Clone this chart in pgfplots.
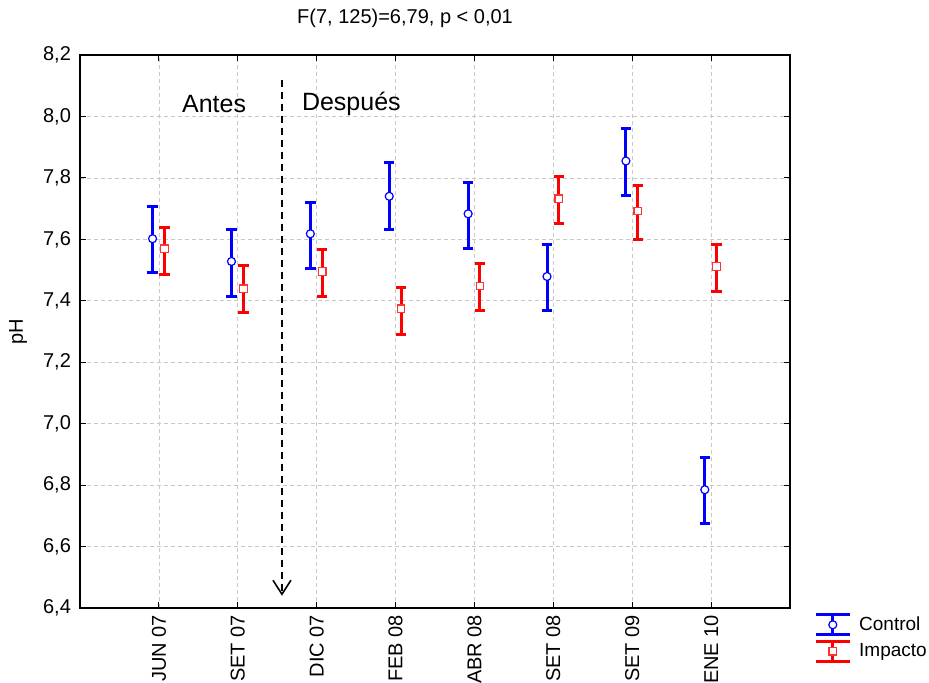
\documentclass[border=0pt]{standalone}
\usepackage{fontspec}
\setmainfont{Liberation Sans}
\usepackage{pgfplots}
\usepackage{pgfplotstable}
\pgfplotsset{compat=1.18}
\usetikzlibrary{arrows.meta}
\definecolor{gridgray}{RGB}{200,200,200}
\definecolor{impred}{RGB}{255,0,0}
\definecolor{ctlblue}{RGB}{0,0,255}

\pgfplotstableread{
x y ep em
-0.08 7.602 0.106 0.111
0.92 7.528 0.103 0.115
1.92 7.618 0.103 0.114
2.92 7.740 0.109 0.107
3.92 7.683 0.102 0.114
4.92 7.479 0.105 0.111
5.92 7.855 0.105 0.112
6.92 6.785 0.105 0.111
}\control

\pgfplotstableread{
x y ep em
0.07 7.569 0.070 0.083
1.07 7.439 0.077 0.077
2.07 7.495 0.072 0.081
3.07 7.374 0.069 0.085
4.07 7.448 0.074 0.079
5.07 7.732 0.072 0.082
6.07 7.692 0.084 0.092
7.07 7.512 0.071 0.082
}\impacto

\begin{document}
\begin{tikzpicture}
\begin{axis}[
  name=ax,
  scale only axis,
  width=355pt, height=276.5pt,
  xmin=-1, xmax=8,
  ymin=6.4, ymax=8.2,
  xtick={0,1,2,3,4,5,6,7},
  xticklabels={JUN 07,SET 07,DIC 07,FEB 08,ABR 08,SET 08,SET 09,ENE 10},
  xticklabel style={rotate=90, anchor=east, font=\fontsize{10}{12}\selectfont},
  ytick={6.4,6.6,6.8,7.0,7.2,7.4,7.6,7.8,8.0,8.2},
  yticklabel style={font=\fontsize{10}{12}\selectfont, xshift=-1pt},
  /pgf/number format/.cd, use comma, fixed, fixed zerofill, precision=1, assume math mode=true,
  /pgfplots/.cd,
  grid=major,
  grid style={dash pattern=on 2pt off 1.5pt, gridgray, line width=0.35pt},
  tick align=inside,
  major tick length=3pt,
  tick style={black, line width=0.6pt},
  axis line style={line width=1pt},
  clip=false,
  ylabel={pH},
  every axis y label/.style={at={(rel axis cs:0,0.5)}, xshift=-31pt, rotate=90, anchor=center, font=\fontsize{10}{12}\selectfont},
  legend style={draw=none, fill=none, font=\fontsize{9.5}{11}\selectfont,
    at={(1,0)}, anchor=north west, xshift=12pt, yshift=-2pt, inner sep=0pt, row sep=1pt,
    nodes={inner xsep=4pt}},
  legend cell align=left,
]
\addplot[ctlblue, only marks, mark=*, mark size=2pt,
  mark options={fill=white, draw=ctlblue, line width=0.6pt},
  error bars/.cd, y dir=both, y explicit,
  error bar style={line width=1.5pt, ctlblue},
  error mark options={rotate=90, mark size=2.6pt, line width=1.5pt, ctlblue},
  /pgfplots/legend image code/.code={
    \draw[line width=1.4pt, ctlblue] (0pt,5pt)--(17pt,5pt) (0pt,-5pt)--(17pt,-5pt) (8.5pt,-5pt)--(8.5pt,5pt);
    \draw[ctlblue, fill=white, line width=0.6pt] (8.5pt,0pt) circle (2pt);
  }]
  table[x=x, y=y, y error plus=ep, y error minus=em] {\control};
\addlegendentry{Control}
\addplot[impred, only marks, mark=square*, mark size=1.9pt,
  mark options={fill=white, draw=impred!80, line width=0.6pt},
  error bars/.cd, y dir=both, y explicit,
  error bar style={line width=1.5pt, impred},
  error mark options={rotate=90, mark size=2.6pt, line width=1.5pt, impred},
  /pgfplots/legend image code/.code={
    \draw[line width=1.4pt, impred] (0pt,5pt)--(17pt,5pt) (0pt,-5pt)--(17pt,-5pt) (8.5pt,-5pt)--(8.5pt,5pt);
    \draw[impred!80, fill=white, line width=0.6pt] (6.6pt,-1.9pt) rectangle (10.4pt,1.9pt);
  }]
  table[x=x, y=y, y error plus=ep, y error minus=em] {\impacto};
\addlegendentry{Impacto}

\draw[black, line width=0.9pt, dash pattern=on 3.5pt off 2.5pt,
  -{Straight Barb[length=7pt, width=9pt, line width=0.8pt]}]
  (axis cs:1.56,8.12) -- (axis cs:1.56,6.44);
\node[font=\fontsize{12.5}{14}\selectfont] at (axis cs:0.70,8.04) {Antes};
\node[font=\fontsize{12.5}{14}\selectfont] at (axis cs:2.44,8.04) {Después};
\node[font=\fontsize{10}{12}\selectfont] at (axis cs:3.12,8.2) [yshift=18.5pt] {F(7, 125)=6,79, p < 0,01};
\end{axis}
\pgfresetboundingbox
\path[use as bounding box] ([xshift=-40pt,yshift=-37.5pt]ax.south west) rectangle ([xshift=69.5pt,yshift=27.5pt]ax.north east);
\end{tikzpicture}
\end{document}
